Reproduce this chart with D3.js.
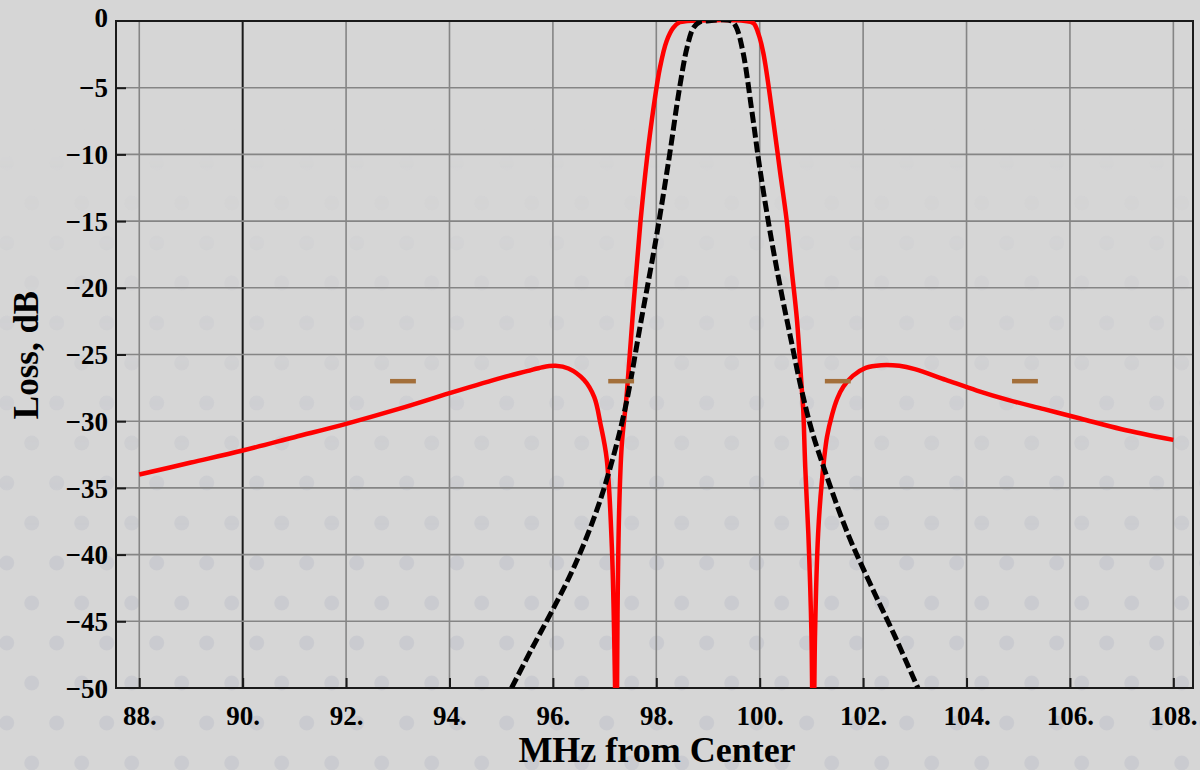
<!DOCTYPE html>
<html><head><meta charset="utf-8">
<script src="https://cdn.jsdelivr.net/npm/d3@7"></script>
<style>body{margin:0;background:#d6d6d6;} svg{display:block}</style>
</head><body>
<svg id="chart" width="1200" height="770"></svg>
<script>
// ---- data ----
const xTicks = [88, 90, 92, 94, 96, 98, 100, 102, 104, 106, 108];
const yTicks = [0, -5, -10, -15, -20, -25, -30, -35, -40, -45, -50];
const xTitle = "MHz from Center";
const yTitle = "Loss, dB";

// red: filter response
const filterFreq = [88, 89, 90, 91, 92, 93, 94, 95, 95.5, 95.8, 96.05, 96.3, 96.6, 96.8, 96.92, 97.04, 97.14, 97.2, 97.225,
  97.25, 97.28, 97.33, 97.43, 97.56, 97.69, 97.82, 97.95, 98.07, 98.2, 98.33, 98.45, 98.6, 99.72, 99.88, 99.97, 100.07, 100.26,
  100.39, 100.52, 100.62, 100.72, 100.81, 100.84, 100.88, 100.94, 101.0, 101.035, 101.07, 101.13, 101.2, 101.3, 101.4, 101.5,
  101.62, 101.8, 102.05, 102.35, 102.7, 103.0, 103.6, 104.2, 104.8, 105.5, 106.2, 107.0, 108.0];
const filterLoss = [-34.0, -33.1, -32.2, -31.2, -30.2, -29.1, -27.9, -26.75, -26.25, -25.95, -25.85, -26.05, -26.9, -28.2, -30.2, -32.8, -39.4, -49.4, -58,
  -44.4, -36.9, -31.9, -27.9, -21.2, -15.2, -10.3, -6.4, -3.5, -1.5, -0.5, -0.1, 0, 0, -0.17, -0.9, -2.4, -7.4,
  -11.2, -14.9, -18.7, -22.4, -27.4, -29.0, -33.4, -38.4, -45.9, -58, -45.9, -38.4, -34.6, -31.2, -29.5, -28.3,
  -27.4, -26.6, -26.0, -25.8, -25.85, -26.1, -26.9, -27.7, -28.4, -29.1, -29.8, -30.6, -31.4];

// black dashed: reference response
const refFreq = [95.2, 95.6, 96.0, 96.4, 96.8, 97.1, 97.4, 97.7, 98.0, 98.25, 98.45, 98.6, 98.72, 98.85, 98.95,
  99.45, 99.55, 99.68, 99.85, 100.0, 100.2, 100.4, 100.6, 100.8, 101.0, 101.25, 101.7, 102.15, 102.6, 103.06];
const refLoss = [-50, -47.0, -44.1, -41.0, -37.2, -33.6, -29.0, -22.6, -16.2, -10.2, -5.0, -1.9, -0.5, -0.05, 0,
  0, -0.5, -2.4, -6.8, -11.0, -15.8, -20.0, -23.8, -27.5, -30.6, -33.6, -38.4, -42.3, -46.0, -50];

// brown mask marks
const maskFreq = [93.1, 97.32, 101.51, 105.13];
const maskLoss = [-27, -27, -27, -27];
const maskHalfWidth = 0.25;

// ---- drawing ----
const svg = d3.select("#chart");
const W = 1200, H = 770;
const L = 116, R = 1193, T = 21, B = 688;
const x = d3.scaleLinear().domain([87.55, 108.38]).range([L, R]);
const y = d3.scaleLinear().domain([-50, 0]).range([B, T]);
const serif = "'Liberation Serif', 'DejaVu Serif', serif";

const defs = svg.append("defs");
const pat = defs.append("pattern").attr("id", "dots").attr("patternUnits", "userSpaceOnUse")
  .attr("width", 50).attr("height", 80);
[[31.7, 43], [6.7, 3], [56.7, 3], [6.7, 83], [56.7, 83]].forEach(c =>
  pat.append("circle").attr("cx", c[0]).attr("cy", c[1]).attr("r", 7.5).attr("fill", "#c9cacf"));
const grad = defs.append("linearGradient").attr("id", "fade")
  .attr("gradientUnits", "userSpaceOnUse").attr("x1", 0).attr("y1", 120).attr("x2", 0).attr("y2", 560);
grad.append("stop").attr("offset", 0).attr("stop-color", "#fff").attr("stop-opacity", 0);
grad.append("stop").attr("offset", 1).attr("stop-color", "#fff").attr("stop-opacity", 1);
const mask = defs.append("mask").attr("id", "fadeMask").attr("maskUnits", "userSpaceOnUse")
  .attr("x", 0).attr("y", 0).attr("width", W).attr("height", H);
mask.append("rect").attr("width", W).attr("height", H).attr("fill", "url(#fade)");
defs.append("clipPath").attr("id", "plotClip").append("rect")
  .attr("x", L).attr("y", T).attr("width", R - L).attr("height", B - T);

svg.append("rect").attr("width", W).attr("height", H).attr("fill", "#d6d6d6");
svg.append("rect").attr("width", W).attr("height", H).attr("fill", "url(#dots)")
  .attr("mask", "url(#fadeMask)").attr("opacity", 0.85);

// grid
const grid = svg.append("g");
grid.selectAll("line.v").data(xTicks).join("line")
  .attr("x1", d => x(d)).attr("x2", d => x(d)).attr("y1", T).attr("y2", B)
  .attr("stroke", d => d === 90 ? "#1a1a1a" : "#858585")
  .attr("stroke-width", d => d === 90 ? 2 : 1.6);
grid.selectAll("line.h").data(yTicks.filter(d => d !== 0 && d !== -50)).join("line")
  .attr("x1", L).attr("x2", R).attr("y1", d => y(d)).attr("y2", d => y(d))
  .attr("stroke", "#858585").attr("stroke-width", 1.6);

// frame
svg.append("rect").attr("x", L).attr("y", T).attr("width", R - L).attr("height", B - T)
  .attr("fill", "none").attr("stroke", "#1a1a1a").attr("stroke-width", 2);

// axes
const xAxis = d3.axisBottom(x).tickValues(xTicks).tickSize(-10).tickPadding(18).tickFormat(d => d + ".");
const gx = svg.append("g").attr("transform", `translate(0,${B})`).call(xAxis);
gx.select(".domain").remove();
gx.selectAll(".tick line").attr("stroke", "#1a1a1a").attr("stroke-width", 2);
gx.selectAll(".tick text").attr("font-family", serif).attr("font-weight", "bold").attr("font-size", 27)
  .attr("fill", "#000").attr("dy", "0.72em");

const yAxis = d3.axisLeft(y).tickValues(yTicks).tickSize(-10).tickPadding(18)
  .tickFormat(d => d === 0 ? "0" : "\u2212" + Math.abs(d));
const gy = svg.append("g").attr("transform", `translate(${L},0)`).call(yAxis);
gy.select(".domain").remove();
gy.selectAll(".tick line").attr("stroke", "#1a1a1a").attr("stroke-width", 2)
  .attr("display", d => (d === 0 || d === -50) ? "none" : null);
gy.selectAll(".tick text").attr("font-family", serif).attr("font-weight", "bold").attr("font-size", 27)
  .attr("fill", "#000").attr("x", 108 - L).attr("dy", "0.34em");
gy.selectAll(".tick").filter(d => d === 0).select("text").attr("dy", "0.2em");

// titles
svg.append("text").attr("x", 657).attr("y", 762).attr("text-anchor", "middle")
  .attr("font-family", serif).attr("font-weight", "bold").attr("font-size", 36).text(xTitle);
svg.append("text").attr("transform", "translate(38,355) rotate(-90)").attr("text-anchor", "middle")
  .attr("font-family", serif).attr("font-weight", "bold").attr("font-size", 35).text(yTitle);

// curves
const plot = svg.append("g").attr("clip-path", "url(#plotClip)");
const line = d3.line().x(d => x(d[0])).y(d => y(d[1])).curve(d3.curveCatmullRom.alpha(0.5));

plot.append("path").datum(filterFreq.map((f, i) => [f, filterLoss[i]]))
  .attr("d", line).attr("fill", "none").attr("stroke", "#ff0000").attr("stroke-width", 4.5)
  .attr("stroke-linejoin", "round");

plot.append("path").datum(refFreq.map((f, i) => [f, refLoss[i]]))
  .attr("d", line).attr("fill", "none").attr("stroke", "#000").attr("stroke-width", 5)
  .attr("stroke-dasharray", "11,4");

plot.selectAll("line.mask").data(maskFreq.map((f, i) => [f, maskLoss[i]])).join("line")
  .attr("x1", d => x(d[0] - maskHalfWidth)).attr("x2", d => x(d[0] + maskHalfWidth))
  .attr("y1", d => y(d[1])).attr("y2", d => y(d[1]))
  .attr("stroke", "#a36f3a").attr("stroke-width", 4.5);
</script>
</body></html>
